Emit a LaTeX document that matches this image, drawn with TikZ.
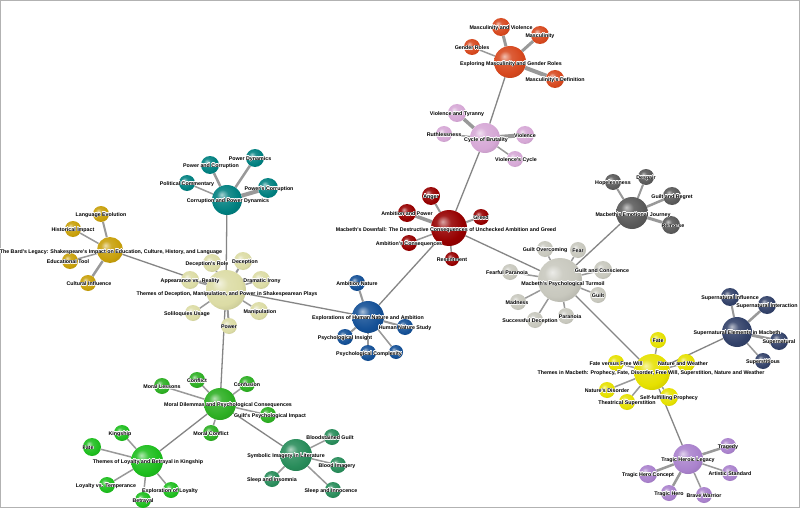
\documentclass[tikz,border=0pt]{standalone}
\usepackage{fontspec}
\usepackage[copies]{contour}
\newfontfamily\tagfamily{Liberation Sans}
\contourlength{0.35pt}
\usetikzlibrary{positioning}
\pgfdeclarelayer{back}
\pgfdeclarelayer{front}
\pgfsetlayers{back,main,front}
\makeatletter
\pgfdeclareradialshading[tikz@ball]{softball}{\pgfqpoint{-9bp}{9bp}}{%
  color(0bp)=(tikz@ball!35!white); color(10bp)=(tikz@ball!88!white);
  color(24bp)=(tikz@ball); color(40bp)=(tikz@ball!82!black); color(60bp)=(tikz@ball!65!black)}
\makeatother
\definecolor{masccol}{RGB}{215,72,30}
\definecolor{brutcol}{RGB}{214,168,214}
\definecolor{downcol}{RGB}{150,0,0}
\definecolor{corrcol}{RGB}{0,128,128}
\definecolor{bardcol}{RGB}{200,160,10}
\definecolor{dececol}{RGB}{220,220,165}
\definecolor{humcol}{RGB}{20,80,150}
\definecolor{turmcol}{RGB}{200,200,190}
\definecolor{emocol}{RGB}{90,90,90}
\definecolor{supcol}{RGB}{50,65,105}
\definecolor{propcol}{RGB}{230,225,0}
\definecolor{tragcol}{RGB}{170,130,205}
\definecolor{moralcol}{RGB}{45,175,35}
\definecolor{kingcol}{RGB}{30,190,30}
\definecolor{symbcol}{RGB}{40,140,90}
\tikzset{
  ball/.style={circle,inner sep=0pt,minimum size={2*#1pt}},
  tint/.style={ball color=#1,shading=softball},
  tag/.style={font=\tagfamily\bfseries\fontsize{5.3}{6}\selectfont,inner sep=0pt,yshift=-1pt},
  spoke/.style={draw=black!40,line width=#1pt},
  link/.style={draw=black!48,line width=1.3pt},
}
% #1 hub, #2 colour, #3 list id/x/y/radius/width/label shift/text
\newcommand{\twigs}[3]{%
  \foreach \id/\px/\py/\r/\w/\dx/\txt in {#3}{
    \node[ball=\r,tint=#2] (\id) at (\px,\py) {};
    \begin{pgfonlayer}{back}\draw[spoke=\w] (#1) -- (\id);\end{pgfonlayer}
    \begin{pgfonlayer}{front}\node[tag] (\id t) at ([xshift=\dx pt]\id) {\contour{white}{\txt}};\end{pgfonlayer}
  }}

\begin{document}
\begin{tikzpicture}[x=1pt,y=-1pt]
  \useasboundingbox (0,0) rectangle (800,508);
  \begin{pgfonlayer}{back}
    \fill[white] (0,0) rectangle (800,508);
    \draw[black!30,line width=1pt] (0.5,0.5) rectangle (799.5,507.5);
  \end{pgfonlayer}
  % hubs
  \node[ball=16,tint=masccol] (masc) at (510,62) {};
  \node[ball=15,tint=brutcol] (brut) at (485,138) {};
  \node[ball=18,tint=downcol] (down) at (449,228) {};
  \node[ball=15,tint=corrcol] (corr) at (227,200) {};
  \node[ball=13,tint=bardcol] (bard) at (110,250) {};
  \node[ball=20,tint=dececol] (dece) at (226,290) {};
  \node[ball=16,tint=humcol] (hum) at (368,317) {};
  \node[ball=22,tint=turmcol] (turm) at (560,280) {};
  \node[ball=16,tint=emocol] (emo) at (632,213) {};
  \node[ball=15,tint=supcol] (sup) at (737,332) {};
  \node[ball=18,tint=propcol] (prop) at (652,372) {};
  \node[ball=15,tint=tragcol] (trag) at (688,459) {};
  \node[ball=16,tint=moralcol] (moral) at (220,404) {};
  \node[ball=16,tint=kingcol] (king) at (147,461) {};
  \node[ball=16,tint=symbcol] (symb) at (296,455) {};
  % links between hubs
  \begin{pgfonlayer}{back}
    \draw[link] (masc) -- (brut) -- (down) -- (turm) -- (emo);
    \draw[link] (down) -- (hum) -- (dece) -- (corr);
    \draw[link] (bard) -- (dece) -- (moral) -- (king);
    \draw[link] (moral) -- (symb);
    \draw[link] (turm) -- (prop) -- (sup);
    \draw[link] (prop) -- (trag);
  \end{pgfonlayer}
  % leaves
  \twigs{masc}{masccol}{mv/501/27/9/3/0/Masculinity and Violence, mg/540/35/9/3/0/Masculinity,
    gr/472/47/8/1.5/0/Gender Roles, md/555/79/9/4/0/Masculinity's Definition}
  \twigs{brut}{brutcol}{vt/457/113/9/3.5/0/Violence and Tyranny, ru/444/134/8/1.5/0/Ruthlessness,
    vi/525/135/9/4/0/Violence, vc/515/159/8/1.5/1/Violence's Cycle}
  \twigs{down}{downcol}{an/431/196/9/2/0/Anger, ap/407/213/9/3.5/0/Ambition and Power,
    gd/481/217/8/2/0/Greed, ac/409/243/8/1.5/0/Ambition's Consequences, rs/452/259/7/1.5/0/Resentment}
  \twigs{corr}{corrcol}{pac/210/165/9/2.5/1/Power and Corruption, pd/255/158/9/2.5/-5/Power Dynamics,
    pcm/187/183/8/1.5/0/Political Commentary, psc/268/188/10/4/1/Power's Corruption}
  \twigs{bard}{bardcol}{le/101/214/8/2/0/Language Evolution, hi/73/229/8/1.5/0/Historical Impact,
    et/70/261/8/1.5/-2/Educational Tool, ci/88/283/8/2.5/1/Cultural Influence}
  \twigs{dece}{dececol}{dr/212/263/9/2/-5/Deception's Role, dc/243/261/9/2/2/Deception,
    di/261/280/9/1.5/1/Dramatic Irony, avr/190/280/9/1.5/0/Appearance vs. Reality,
    mn/259/311/9/1.5/1/Manipulation, su/193/313/8/1.5/-6/Soliloquies Usage, pw/229/326/8/2/0/Power}
  \twigs{hum}{humcol}{amn/357/283/8/2/0/Ambition Nature, hns/405/327/8/2/0/Human Nature Study,
    psi/345/337/8/2/0/Psychological Insight, pcx/368/353/8/1.5/1/Psychological Complexity,
    px/396/352/7/1.5/0/}
  \twigs{turm}{turmcol}{go/545/249/8/1.5/0/Guilt Overcoming, fe/578/250/8/1.5/0/Fear,
    gac/603/270/9/1.5/-1/Guilt and Conscience, fp/510/272/8/1.5/-3/Fearful Paranoia,
    gu/598/295/8/1.5/0/Guilt, ma/518/302/8/1.5/-1/Madness, pa/566/316/8/1.5/4/Paranoia,
    sd/535/320/8/1.5/-5/Successful Deception}
  \twigs{emo}{emocol}{ho/613/182/8/2/0/Hopelessness, de/646/177/8/2/0/Despair,
    gre/672/196/9/2.5/0/Guilt and Regret, re/671/225/9/3/2/Remorse}
  \twigs{sup}{supcol}{si/730/297/9/2/0/Supernatural Influence, sx/767/305/9/2.5/0/Supernatural Interaction,
    sn/779/341/9/3/0/Supernatural, ss/763/361/8/1.5/0/Superstitious}
  \twigs{prop}{propcol}{fa/658/340/8/1.5/0/Fate, fvf/616/363/8/1.5/0/Fate versus Free Will,
    nw/686/363/9/1.5/-3/Nature and Weather, nd/607/390/8/1.5/0/Nature's Disorder,
    sfp/669/397/9/1.5/0/Self-fulfilling Prophecy, ts/627/402/8/1.5/0/Theatrical Superstition}
  \twigs{trag}{tragcol}{tg/728/446/8/2.5/0/Tragedy, thc/648/474/9/2.5/0/Tragic Hero Concept,
    ast/730/473/8/1.5/0/Artistic Standard, th/669/493/8/2.5/0/Tragic Hero, bw/704/495/8/1.5/0/Brave Warrior}
  \twigs{moral}{moralcol}{ml/162/386/8/1.5/0/Moral Lessons, cf/197/380/8/1.5/0/Conflict,
    cn/247/384/8/1.5/0/Confusion, gpi/268/415/8/1.5/2/Guilt's Psychological Impact,
    mc/211/433/8/1.5/0/Moral Conflict}
  \twigs{king}{kingcol}{ks/122/433/8/1.5/-2/Kingship, fs/92/447/9/1.5/-4/Fate,
    lt/107/485/8/1.5/-1/Loyalty vs. Temperance, el/171/490/8/1.5/-1/Exploration of Loyalty,
    bt/143/500/8/1.5/0/Betrayal}
  \twigs{symb}{symbcol}{bg/332/437/8/1.5/-2/Bloodstained Guilt, bi/338/465/8/1.5/-1/Blood Imagery,
    sin/272/479/8/1.5/0/Sleep and Insomnia, sno/333/490/8/1.5/-2/Sleep and Innocence}
  % hub labels
  \begin{pgfonlayer}{front}
    \node[tag] (masc t) at (511,63) {\contour{white}{Exploring Masculinity and Gender Roles}};
    \node[tag] (brut t) at (486,139) {\contour{white}{Cycle of Brutality}};
    \node[tag] (down t) at (446,229) {\contour{white}{Macbeth's Downfall: The Destructive Consequences of Unchecked Ambition and Greed}};
    \node[tag] (corr t) at (228,200) {\contour{white}{Corruption and Power Dynamics}};
    \node[tag] (bard t) at (111,251) {\contour{white}{The Bard's Legacy: Shakespeare's Impact on Education, Culture, History, and Language}};
    \node[tag] (dece t) at (227,293) {\contour{white}{Themes of Deception, Manipulation, and Power in Shakespearean Plays}};
    \node[tag] (hum t) at (368,317) {\contour{white}{Explorations of Human Nature and Ambition}};
    \node[tag] (turm t) at (563,283) {\contour{white}{Macbeth's Psychological Turmoil}};
    \node[tag] (emo t) at (633,214) {\contour{white}{Macbeth's Emotional Journey}};
    \node[tag] (sup t) at (737,332) {\contour{white}{Supernatural Elements in Macbeth}};
    \node[tag] (prop t) at (651,372) {\contour{white}{Themes in Macbeth: Prophecy, Fate, Disorder, Free Will, Superstition, Nature and Weather}};
    \node[tag] (trag t) at (688,459) {\contour{white}{Tragic Heroic Legacy}};
    \node[tag] (moral t) at (228,404) {\contour{white}{Moral Dilemmas and Psychological Consequences}};
    \node[tag] (king t) at (148,461) {\contour{white}{Themes of Loyalty and Betrayal in Kingship}};
    \node[tag] (symb t) at (286,455) {\contour{white}{Symbolic Imagery in Literature}};
  \end{pgfonlayer}
\end{tikzpicture}
\end{document}
